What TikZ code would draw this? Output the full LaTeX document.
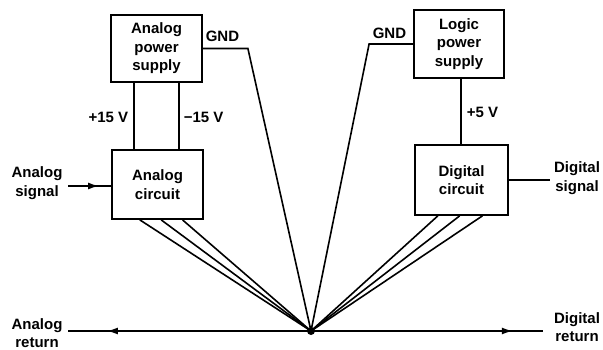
\documentclass[tikz,border=0pt]{standalone}
\usepackage{fontspec}
\setmainfont{Liberation Sans}
\usetikzlibrary{arrows.meta,calc,decorations.markings}
\begin{document}
\begin{tikzpicture}[x=1pt,y=-1pt,line width=1.6pt,
  box/.style={draw,line width=1.8pt,inner sep=0pt,align=center,font=\fontsize{15}{18.5}\selectfont\bfseries},
  lbl/.style={inner sep=0pt,align=center,font=\fontsize{15}{18.5}\selectfont\bfseries},
  midarr/.style={postaction={decorate},decoration={markings,
    mark=at position #1 with {\arrow{Latex[length=11pt,width=7pt]}}}}]
\useasboundingbox (0,0) rectangle (603,350);
% boxes
\node[box,minimum width=91pt,minimum height=67pt] (aps) at (156.5,48.5) {Analog\\power\\supply};
\node[box,minimum width=91pt,minimum height=69pt] (ac) at (157.5,184.5) {Analog\\circuit};
\node[box,minimum width=90pt,minimum height=68pt] (lps) at (459,44) {Logic\\power\\supply};
\node[box,minimum width=93pt,minimum height=70pt] (dc) at (461.5,180) {Digital\\circuit};
% ground point
\node[circle,fill,inner sep=0pt,minimum size=8pt] (g) at (311,331) {};
% GND wires
\draw (aps.east) -- ++(45,0) coordinate (gl) -- (g.center);
\draw (lps.west) -- ++(-44,0) coordinate (gr) -- (g.center);
\node[lbl,anchor=base west] (gndl) at (205,42) {GND};
\node[lbl,anchor=base west] (gndr) at (372,39) {GND};
% supply rails
\coordinate (p15) at ($(aps.south west)+(24,0)$);
\coordinate (m15) at ($(aps.south west)+(69,0)$);
\coordinate (p5) at ($(lps.south)+(2,0)$);
\draw (p15) -- (p15 |- ac.north);
\draw (m15) -- (m15 |- ac.north);
\draw (p5) -- (p5 |- dc.north);
\node[lbl,anchor=east] (l15p) at (129,117) {+15 V};
\node[lbl,anchor=west] (l15m) at (183,117) {−15 V};
\node[lbl,anchor=west] (l5) at (466,112) {+5 V};
% signals
\node[lbl] (asig) at (37,183) {Analog\\signal};
\coordinate (asl) at (68,186);
\draw[midarr=0.72] (asl) -- (ac.west |- asl);
\node[lbl] (dsig) at (577,178) {Digital\\signal};
\coordinate (dsl) at (550,180);
\draw (dc.east |- dsl) -- (dsl);
% fan lines
\foreach \f in {0.31,0.54,0.77}
  \draw ($(ac.south west)!\f!(ac.south east)$) -- (g.center);
\foreach \f in {0.25,0.48,0.72}
  \draw ($(dc.south west)!\f!(dc.south east)$) -- (g.center);
% return line
\coordinate (rl) at (68,331);
\coordinate (rr) at (543,331);
\draw[midarr=0.84] (g.center) -- (rl);
\draw[midarr=0.87] (g.center) -- (rr);
\node[lbl] (aret) at (37,333) {Analog\\return};
\node[lbl] (dret) at (577,327) {Digital\\return};
\end{tikzpicture}
\end{document}
